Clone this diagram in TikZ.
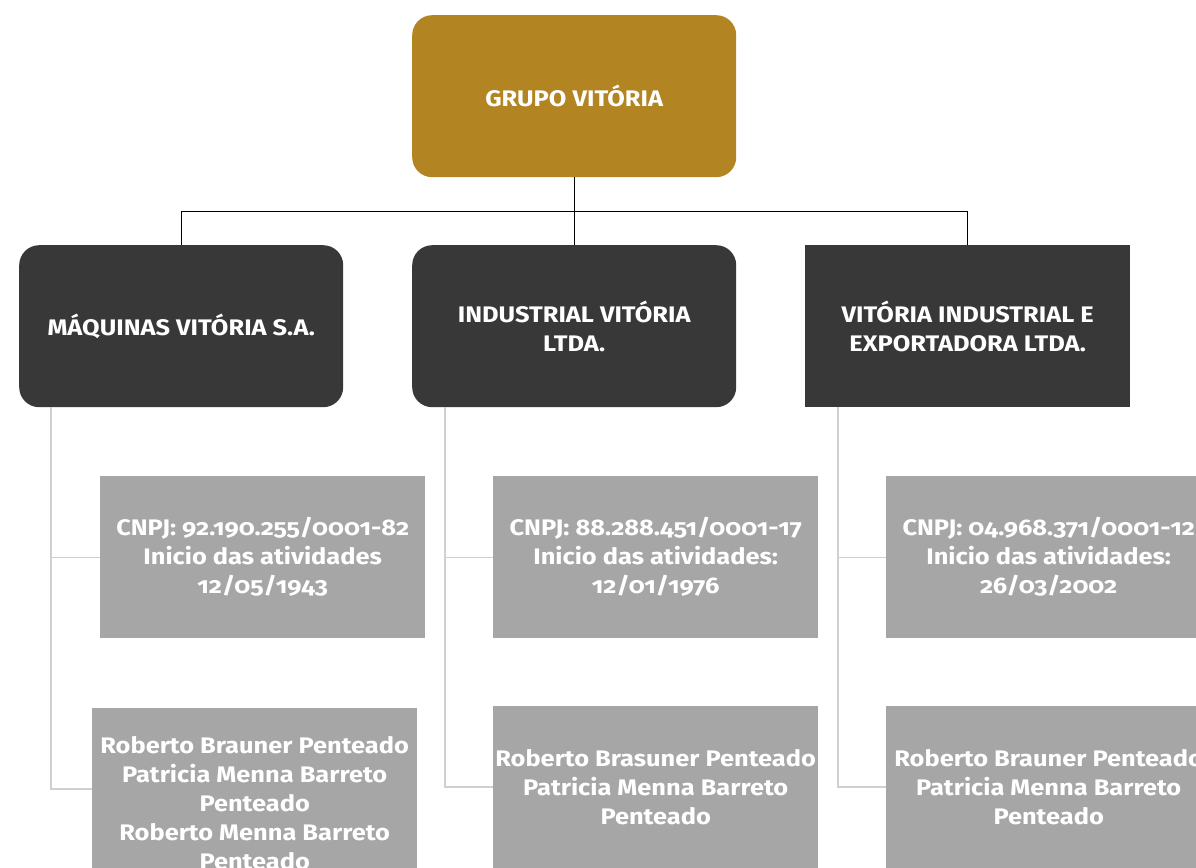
\documentclass[tikz,border=0pt]{standalone}
\usepackage{fontspec}
\setmainfont{Fira Sans}[Numbers=OldStyle, FakeStretch=1.13]
\usetikzlibrary{calc}
\definecolor{gold}{HTML}{B38422}
\definecolor{dark}{HTML}{383838}
\definecolor{boxgray}{HTML}{A6A6A6}
\definecolor{linegray}{HTML}{D0D0D0}
\begin{document}
\begin{tikzpicture}[x=1pt,y=-1pt,
  txt/.style={text=white, font=\fontsize{22.5}{29}\selectfont\bfseries, align=center, inner sep=0pt, anchor=north west, minimum width=324pt, minimum height=162pt},
  goldbox/.style={txt, fill=gold, rounded corners=20pt},
  darkround/.style={txt, fill=dark, rounded corners=20pt},
  darksquare/.style={txt, fill=dark},
  graybox/.style={txt, fill=boxgray, minimum width=325pt},
  topline/.style={draw=black, line width=1.3pt},
  subline/.style={draw=linegray, line width=1.4pt}]
\path[use as bounding box, clip] (0,0) rectangle (1196,867);
\fill[white] (0,0) rectangle (1196,867);

\node[goldbox] (top) at (412,15) {GRUPO VITÓRIA};
\node[darkround] (m1) at (19,245) {MÁQUINAS VITÓRIA S.A.};
\node[darkround] (m2) at (412,245) {INDUSTRIAL VITÓRIA\\LTDA.};
\node[darksquare, minimum width=325pt] (m3) at (805,245) {VITÓRIA INDUSTRIAL E\\EXPORTADORA LTDA.};

\node[graybox] (c1) at (100,476) {CNPJ: 92.190.255/0001-82\\Inicio das atividades\\12/05/1943};
\node[graybox] (c2) at (493,476) {CNPJ: 88.288.451/0001-17\\Inicio das atividades:\\12/01/1976};
\node[graybox] (c3) at (886,476) {CNPJ: 04.968.371/0001-12\\Inicio das atividades:\\26/03/2002};

\node[graybox, minimum height=190pt] (r1) at (92,708) {Roberto Brauner Penteado\\Patricia Menna Barreto\\Penteado\\Roberto Menna Barreto\\Penteado};
\node[graybox] (r2) at (493,706) {Roberto Brasuner Penteado\\Patricia Menna Barreto\\Penteado};
\node[graybox] (r3) at (886,706) {Roberto Brauner Penteado\\Patricia Menna Barreto\\Penteado};

\draw[topline] (top.south) -- (m2.north);
\draw[topline] (top.south) ++(0,34) -| (m1.north);
\draw[topline] (top.south) ++(0,34) -| (m3.north);

\draw[subline] (m1.south west) ++(32,0) |- (c1.west);
\draw[subline] (m1.south west) ++(32,0) |- ($(r1.north west)+(0,81)$);
\draw[subline] (m2.south west) ++(33,0) |- (c2.west);
\draw[subline] (m2.south west) ++(33,0) |- ($(r2.north west)+(0,81)$);
\draw[subline] (m3.south west) ++(33,0) |- (c3.west);
\draw[subline] (m3.south west) ++(33,0) |- ($(r3.north west)+(0,81)$);
\end{tikzpicture}
\end{document}
